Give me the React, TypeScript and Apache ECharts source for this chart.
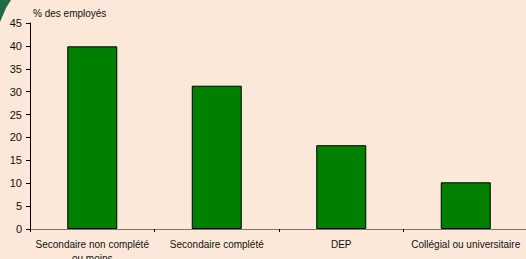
import React, { useEffect, useRef } from "react";
import * as echarts from "echarts";

const categories = ["Secondaire non complété\nou moins", "Secondaire complété", "DEP", "Collégial ou universitaire"];
const values = [39.9, 31.3, 18.3, 10.2];
const yTicks = { min: 0, max: 45, interval: 5 };
const axisTitle = "% des employés";

export default function App() {
  const ref = useRef<HTMLDivElement>(null);
  useEffect(() => {
    const chart = echarts.init(ref.current!, null, { renderer: "svg" });
    chart.setOption({
      animation: false,
      backgroundColor: "#FBE8D8",
      textStyle: { fontFamily: "Liberation Sans, Arial, sans-serif" },
      graphic: [
        {
          type: "polygon",
          shape: { points: [[0, 0], [11, 0], [6, 8], [0, 22]] },
          style: { fill: "#1F6B47" },
          z: 0,
        },
      ],
      grid: { left: 30, top: 23, bottom: 30, width: 498, containLabel: false, outerBoundsMode: "none" },
      xAxis: {
        type: "category",
        data: categories,
        axisLine: { lineStyle: { color: "#7F7468", width: 1 } },
        axisTick: { show: true, length: 3, lineStyle: { color: "#000" } },
        axisLabel: { color: "#111", fontSize: 10, margin: 8, lineHeight: 14, interval: 0 },
      },
      yAxis: {
        type: "value",
        min: yTicks.min,
        max: yTicks.max,
        interval: yTicks.interval,
        name: axisTitle,
        nameLocation: "end",
        nameGap: 5,
        nameTextStyle: { color: "#111", fontSize: 10, align: "left", padding: [0, 0, 0, 3] },
        axisLine: { show: true, lineStyle: { color: "#000" } },
        axisTick: { show: true, length: 4, lineStyle: { color: "#000" } },
        axisLabel: { color: "#111", fontSize: 11, margin: 8 },
        splitLine: { show: false },
      },
      series: [
        {
          type: "bar",
          data: values,
          barWidth: 50,
          itemStyle: { color: "#008000", borderColor: "#000", borderWidth: 1 },
        },
      ],
    });
    return () => chart.dispose();
  }, []);
  return <div ref={ref} style={{ width: 526, height: 259, position: "fixed", left: 0, top: 0 }} />;
}
